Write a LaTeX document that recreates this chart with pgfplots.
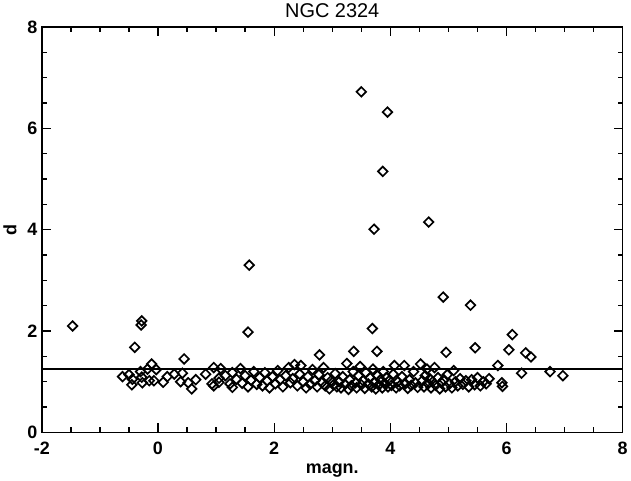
\documentclass[border=0pt]{standalone}
\usepackage{fontspec}
\setmainfont{Liberation Sans}
\usepackage{pgfplots}
\pgfplotsset{compat=1.18}

\begin{document}
\begin{tikzpicture}
\begin{axis}[
    width=583pt, height=407pt, scale only axis,
    xmin=-2, xmax=8, ymin=0, ymax=8,
    xtick={-2,0,...,8}, ytick={0,2,...,8},
    minor x tick num=3, minor y tick num=3,
    major tick length=9pt, minor tick length=5pt,
    tick align=inside,
    axis line style={line width=1.6pt},
    every tick/.style={line width=1.3pt, black},
    ticklabel style={font=\fontsize{18}{20}\selectfont\bfseries},
    xticklabel style={yshift=-6pt},
    yticklabel style={xshift=-1pt},
    /pgf/number format/assume math mode=true,
    title={NGC 2324},
    title style={font=\fontsize{20}{22}\selectfont, yshift=0pt},
    xlabel={magn.},
    ylabel={d},
    label style={font=\fontsize{18}{20}\selectfont\bfseries},
    xlabel style={yshift=-2pt},
    ylabel style={yshift=4pt},
]
% horizontal reference level
\addplot[black, line width=1.8pt, forget plot] coordinates {(-2,1.25) (8,1.25)};

\addplot[only marks, mark=square, mark size=3.4pt,
         mark options={rotate=45, line width=1.7pt, black, fill=white}]
 table {
x y
-1.47 2.10
-0.28 2.20
-0.29 2.12
-0.40 1.68
0.45 1.45
1.57 3.30
1.55 1.98
3.50 6.72
3.95 6.32
3.87 5.15
3.72 4.01
4.66 4.15
4.91 2.67
5.38 2.51
3.69 2.05
3.37 1.60
3.77 1.60
4.96 1.58
5.46 1.67
2.78 1.53
6.10 1.93
6.04 1.63
6.33 1.57
6.42 1.49
5.85 1.32
6.26 1.17
6.75 1.20
6.97 1.12
5.92 0.98
5.93 0.91
-0.61 1.10
-0.50 1.14
-0.45 0.94
-0.44 1.05
-0.30 1.20
-0.28 1.09
-0.27 0.98
-0.18 1.25
-0.15 1.02
-0.11 1.35
-0.07 1.02
-0.03 1.24
0.09 0.99
0.16 1.10
0.28 1.15
0.39 1.00
0.42 1.17
0.52 0.98
0.58 0.86
0.65 1.04
0.82 1.15
0.93 0.96
0.96 1.28
0.96 0.92
1.05 1.07
1.05 0.99
1.08 1.26
1.16 1.12
1.24 0.96
1.28 0.89
1.28 1.18
1.35 1.05
1.42 1.26
1.45 0.97
1.50 1.12
1.55 0.90
1.60 1.03
1.65 1.20
1.70 0.95
1.75 1.08
1.80 0.92
1.84 1.18
1.88 1.02
1.92 0.88
1.97 1.10
2.02 0.96
2.06 1.22
2.10 1.04
2.15 0.90
2.20 1.12
2.25 1.28
2.28 0.98
2.32 1.06
2.35 1.34
2.40 0.92
2.44 1.15
2.46 1.32
2.50 1.00
2.55 0.88
2.58 1.10
2.62 0.95
2.66 1.24
2.70 1.02
2.74 0.90
2.77 1.14
2.82 0.98
2.85 1.28
2.88 0.92
2.92 1.08
2.95 0.86
2.98 1.02
3.02 0.94
3.05 1.16
3.08 0.90
3.12 1.00
3.15 0.88
3.18 1.10
3.22 0.95
3.25 1.36
3.28 0.85
3.30 1.04
3.33 0.92
3.36 1.20
3.40 0.98
3.42 0.88
3.45 1.12
3.48 1.30
3.50 0.94
3.53 1.02
3.56 0.87
3.58 1.18
3.62 0.96
3.65 1.08
3.68 0.90
3.70 1.25
3.72 0.99
3.75 0.86
3.78 1.12
3.80 0.94
3.83 1.04
3.86 0.88
3.88 1.20
3.90 0.97
3.93 1.08
3.96 0.90
3.98 1.02
4.02 0.93
4.05 1.15
4.07 1.32
4.10 0.88
4.13 1.00
4.16 0.92
4.20 1.10
4.24 1.32
4.26 0.96
4.30 0.87
4.33 1.04
4.36 0.93
4.40 1.20
4.43 0.98
4.47 0.89
4.52 1.35
4.55 1.02
4.58 0.90
4.60 1.12
4.63 1.25
4.65 0.96
4.68 1.06
4.70 0.88
4.73 1.00
4.76 1.28
4.78 0.93
4.82 1.08
4.85 0.86
4.88 0.98
4.92 1.04
4.95 0.90
4.98 1.14
5.02 0.96
5.06 0.88
5.09 1.22
5.12 1.00
5.16 0.92
5.20 1.06
5.25 0.95
5.30 1.02
5.35 0.90
5.40 1.04
5.45 0.94
5.50 1.08
5.55 0.92
5.60 1.00
5.65 0.96
5.70 1.06
};
\end{axis}
\end{tikzpicture}
\end{document}
